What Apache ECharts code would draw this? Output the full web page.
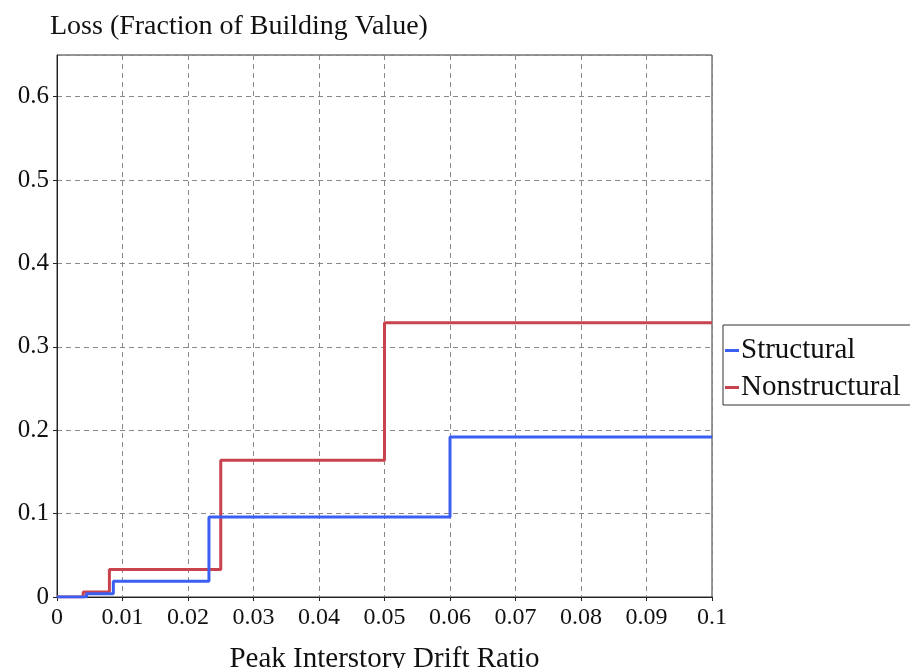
<!DOCTYPE html>
<html><head><meta charset="utf-8">
<script src="https://cdn.jsdelivr.net/npm/echarts@6/dist/echarts.min.js"></script>
<style>html,body{margin:0;padding:0;background:#fff}#c{width:910px;height:668px}</style>
</head><body><div id="c"></div>
<script>
const seriesNames = ['Structural', 'Nonstructural'];
const structDrift = [0, 0.0045, 0.0086, 0.0232, 0.06, 0.1];
const structLoss  = [0, 0.004, 0.019, 0.096, 0.192, 0.192];
const nonstDrift  = [0, 0.004, 0.008, 0.025, 0.05, 0.1];
const nonstLoss   = [0, 0.006, 0.033, 0.164, 0.329, 0.329];
const xTicks = [0, 0.01, 0.02, 0.03, 0.04, 0.05, 0.06, 0.07, 0.08, 0.09, 0.1];
const yTicks = [0, 0.1, 0.2, 0.3, 0.4, 0.5, 0.6];

const font = '"Liberation Serif", "DejaVu Serif", serif';
const chart = echarts.init(document.getElementById('c'));
const pairs = (xs, ys) => xs.map((x, i) => [x, ys[i]]);
chart.setOption({
  animation: false,
  textStyle: { fontFamily: font },
  grid: { left: 57, right: 198, top: 55, bottom: 71, show: true, borderColor: '#333', borderWidth: 1,
    backgroundColor: '#fff', containLabel: false, outerBoundsMode: 'none' },
  title: { text: 'Loss (Fraction of Building Value)', left: 45, top: 8,
    textStyle: { fontFamily: font, fontSize: 28, fontWeight: 'normal', color: '#111' } },
  legend: {
    orient: 'vertical', left: 723, top: 325, padding: [10, 20, 2, 2],
    borderColor: '#333', borderWidth: 1, itemGap: 6,
    itemWidth: 14, itemHeight: 3, icon: 'rect',
    textStyle: { fontFamily: font, fontSize: 29, lineHeight: 31, color: '#111', padding: [0, 0, 0, -3] },
    data: seriesNames
  },
  xAxis: {
    type: 'value', min: 0, max: 0.1, interval: 0.01,
    name: 'Peak Interstory Drift Ratio', nameLocation: 'middle', nameGap: 48,
    nameTextStyle: { fontFamily: font, fontSize: 29, color: '#111' },
    axisLine: { lineStyle: { color: '#222' } },
    axisTick: { show: true, length: 4, lineStyle: { color: '#222' } },
    axisLabel: { fontFamily: font, fontSize: 24, color: '#111', margin: 9,
      formatter: v => { const t = xTicks.find(a => Math.abs(a - v) < 1e-9); return t === undefined ? '' : String(t); } },
    splitLine: { show: true, lineStyle: { type: [5, 4], color: '#888' } }
  },
  yAxis: {
    type: 'value', min: 0, max: 0.65, interval: 0.1,
    axisLine: { show: true, lineStyle: { color: '#222' } },
    axisTick: { show: true, length: 4, lineStyle: { color: '#222' } },
    axisLabel: { fontFamily: font, fontSize: 25, color: '#111', margin: 8, showMaxLabel: false,
      formatter: v => { const t = yTicks.find(a => Math.abs(a - v) < 1e-9); return t === undefined ? '' : String(t); } },
    splitLine: { show: true, lineStyle: { type: [5, 4], color: '#888' } }
  },
  series: [
    { name: seriesNames[0], type: 'line', step: 'end', showSymbol: false, data: pairs(structDrift, structLoss),
      lineStyle: { color: '#3a5ff2', width: 3 }, itemStyle: { color: '#3a5ff2' }, z: 3 },
    { name: seriesNames[1], type: 'line', step: 'end', showSymbol: false, data: pairs(nonstDrift, nonstLoss),
      lineStyle: { color: '#c9434e', width: 3 }, itemStyle: { color: '#c9434e' }, z: 2 }
  ]
});
</script></body></html>
